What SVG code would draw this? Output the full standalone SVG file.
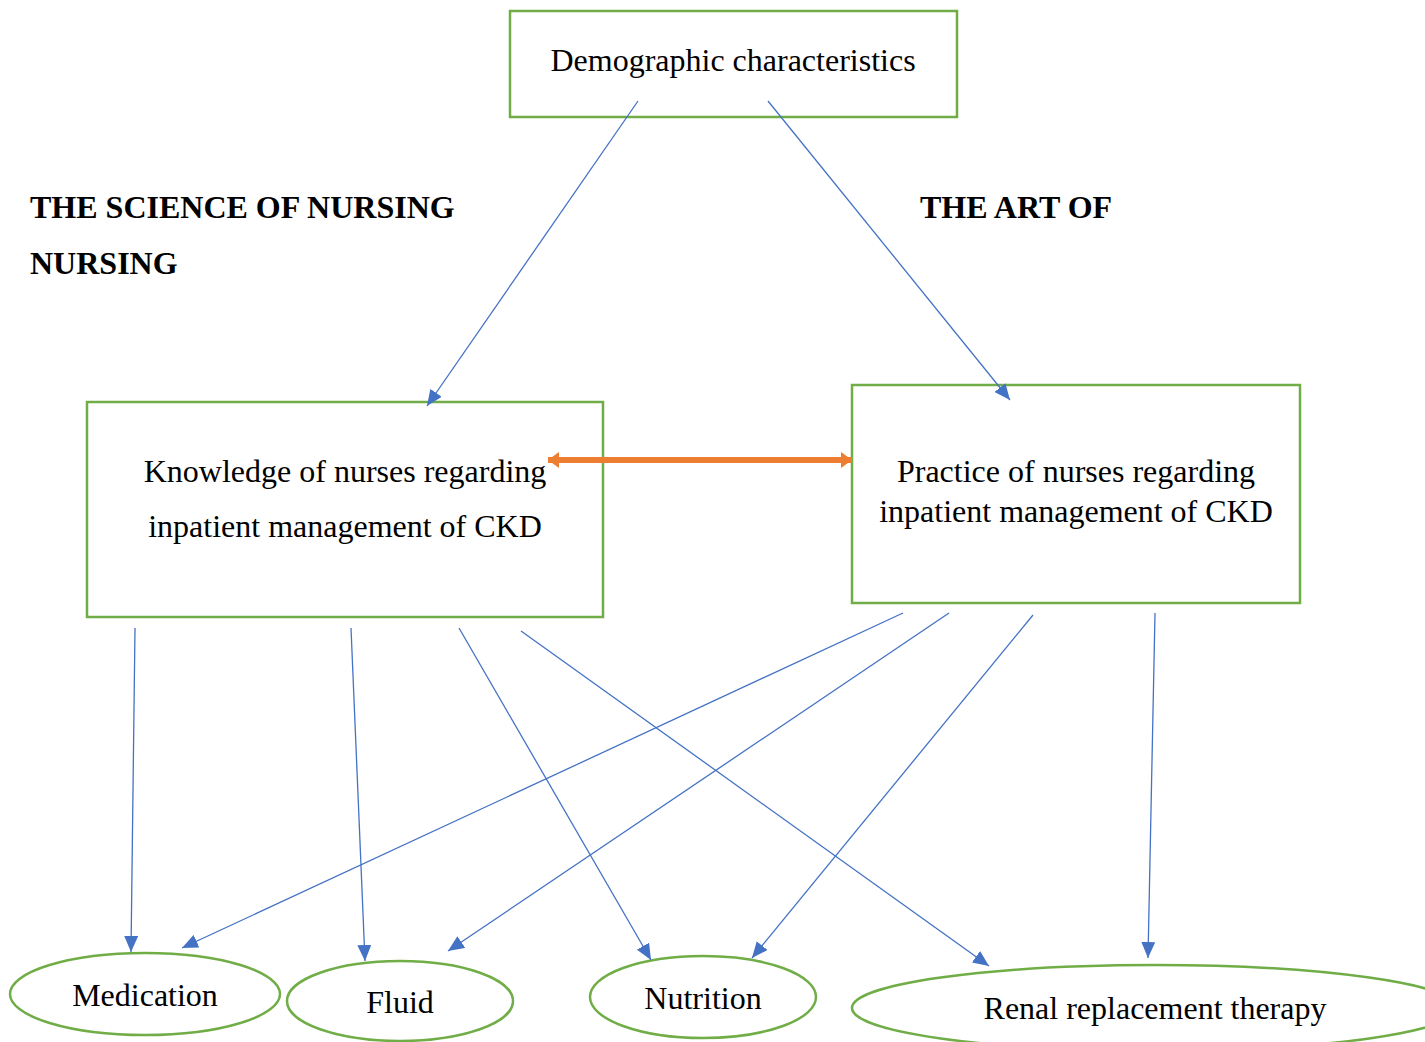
<svg xmlns="http://www.w3.org/2000/svg" width="1425" height="1042" viewBox="0 0 1425 1042">
<style>
.box{fill:#fff;stroke:#70AD47;stroke-width:2.5}
.ell{fill:#fff;stroke:#70AD47;stroke-width:2.5}
.t{font-family:"Liberation Serif","Times New Roman",serif;font-size:32px;fill:#000;text-anchor:middle}
.b{font-family:"Liberation Serif","Times New Roman",serif;font-size:32px;font-weight:bold;fill:#000}
.c{stroke:#4472C4;stroke-width:1.3;fill:none;marker-end:url(#ah)}
</style>
<defs>
<marker id="ah" markerUnits="userSpaceOnUse" markerWidth="18" markerHeight="14" refX="16" refY="7" orient="auto">
<path d="M0,0 L16,7 L0,14 Z" fill="#4472C4"/>
</marker>
<marker id="oh" markerUnits="userSpaceOnUse" markerWidth="12" markerHeight="16" refX="11" refY="8" orient="auto-start-reverse">
<path d="M0,0 L11,8 L0,16 Z" fill="#ED7D31"/>
</marker>
</defs>
<rect width="1425" height="1042" fill="#fff"/>
<g id="demographic">
<rect class="box" x="510" y="11" width="447" height="106"/>
<text class="t" x="733" y="71">Demographic characteristics</text>
</g>
<g id="label-science">
<text class="b" x="30" y="218">THE SCIENCE OF NURSING</text>
<text class="b" x="30" y="274">NURSING</text>
</g>
<g id="label-art">
<text class="b" x="920" y="218">THE ART OF</text>
</g>
<g id="knowledge">
<rect class="box" x="87" y="402" width="516" height="215"/>
<text class="t" x="345" y="482">Knowledge of nurses regarding</text>
<text class="t" x="345" y="537">inpatient management of CKD</text>
</g>
<g id="practice">
<rect class="box" x="852" y="385" width="448" height="218"/>
<text class="t" x="1076" y="482">Practice of nurses regarding</text>
<text class="t" x="1076" y="522">inpatient management of CKD</text>
</g>
<g id="medication">
<ellipse class="ell" cx="145" cy="994" rx="135" ry="41"/>
<text class="t" x="145" y="1006">Medication</text>
</g>
<g id="fluid">
<ellipse class="ell" cx="400" cy="1001" rx="113" ry="40"/>
<text class="t" x="400" y="1013">Fluid</text>
</g>
<g id="nutrition">
<ellipse class="ell" cx="703" cy="997" rx="113" ry="41"/>
<text class="t" x="703" y="1009">Nutrition</text>
</g>
<g id="rrt">
<ellipse class="ell" cx="1155" cy="1008" rx="303" ry="43"/>
<text class="t" x="1155" y="1019">Renal replacement therapy</text>
</g>
<g id="connectors">
<line class="c" x1="638" y1="101" x2="427" y2="406"/>
<line class="c" x1="768" y1="101" x2="1010" y2="400"/>
<line class="c" x1="135" y1="628" x2="131" y2="952"/>
<line class="c" x1="351" y1="628" x2="365" y2="961"/>
<line class="c" x1="459" y1="628" x2="651" y2="960"/>
<line class="c" x1="521" y1="631" x2="989" y2="966"/>
<line class="c" x1="903" y1="613" x2="182" y2="948"/>
<line class="c" x1="949" y1="613" x2="448" y2="951"/>
<line class="c" x1="1033" y1="615" x2="752" y2="958"/>
<line class="c" x1="1155" y1="613" x2="1148" y2="958"/>
<line x1="548" y1="460" x2="852" y2="460" stroke="#ED7D31" stroke-width="6" marker-start="url(#oh)" marker-end="url(#oh)"/>
</g>
</svg>
